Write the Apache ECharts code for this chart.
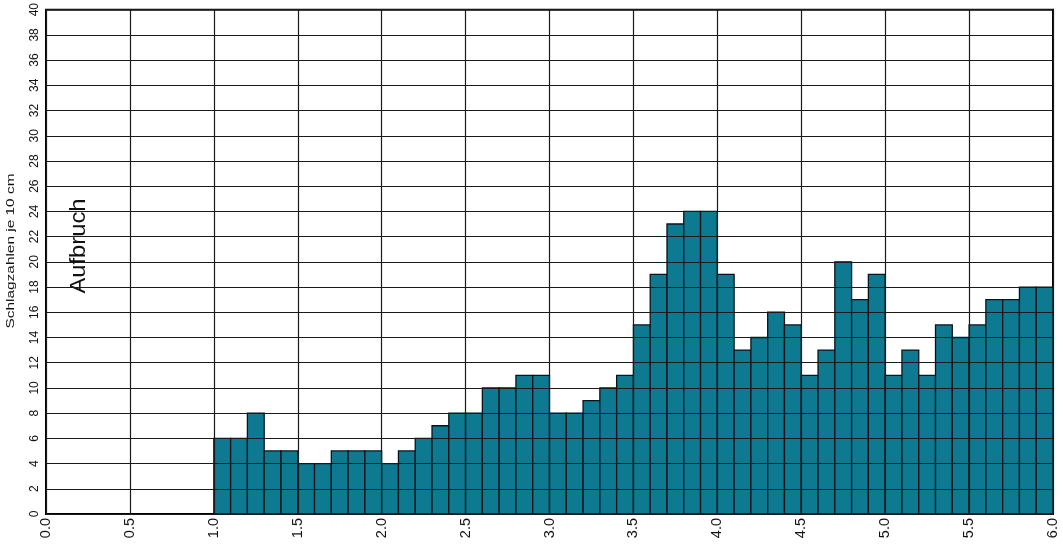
<!DOCTYPE html>
<html>
<head>
<meta charset="utf-8">
<script src="https://cdn.jsdelivr.net/npm/echarts@6/dist/echarts.min.js"></script>
<style>
  html, body { margin: 0; padding: 0; background: #fff; }
  #chart { width: 1063px; height: 553px; }
</style>
</head>
<body>
<div id="chart"></div>
<script>
// Depth bins (m): each bar covers [start, start + binWidth)
const binStarts = [
  1.0, 1.1, 1.2, 1.3, 1.4, 1.5, 1.6, 1.7, 1.8, 1.9,
  2.0, 2.1, 2.2, 2.3, 2.4, 2.5, 2.6, 2.7, 2.8, 2.9,
  3.0, 3.1, 3.2, 3.3, 3.4, 3.5, 3.6, 3.7, 3.8, 3.9,
  4.0, 4.1, 4.2, 4.3, 4.4, 4.5, 4.6, 4.7, 4.8, 4.9,
  5.0, 5.1, 5.2, 5.3, 5.4, 5.5, 5.6, 5.7, 5.8, 5.9
];
const binWidth = 0.1;
// Blow counts per 10 cm
const blows = [
  6, 6, 8, 5, 5, 4, 4, 5, 5, 5,
  4, 5, 6, 7, 8, 8, 10, 10, 11, 11,
  8, 8, 9, 10, 11, 15, 19, 23, 24, 24,
  19, 13, 14, 16, 15, 11, 13, 20, 17, 19,
  11, 13, 11, 15, 14, 15, 17, 17, 18, 18
];
const yTitle = 'Schlagzahlen je 10 cm';
const noteText = 'Aufbruch';

const FONT = 'Liberation Sans, Arial, sans-serif';
const chart = echarts.init(document.getElementById('chart'), null, { renderer: 'canvas' });

const data = binStarts.map((s, i) => [s, s + binWidth, blows[i]]);

chart.setOption({
  animation: false,
  backgroundColor: '#fff',
  textStyle: { fontFamily: FONT },
  grid: {
    left: 46, right: 10, top: 6, bottom: 39,
    show: true, borderColor: '#000', borderWidth: 2, backgroundColor: 'transparent'
  },
  xAxis: {
    type: 'value', min: 0, max: 6, interval: 0.5, z: 5,
    axisLine: { show: false },
    axisTick: { show: false },
    splitLine: { show: true, lineStyle: { color: '#1a1a1a', width: 1.2 } },
    axisLabel: {
      rotate: 90, color: '#111', fontSize: 14.5, margin: 4,
      formatter: v => v.toFixed(1)
    }
  },
  yAxis: {
    type: 'value', min: 0, max: 40, interval: 2, z: 5,
    axisLine: { show: false },
    axisTick: { show: false },
    splitLine: { show: true, lineStyle: { color: '#1a1a1a', width: 1.2 } },
    axisLabel: { rotate: 90, color: '#111', fontSize: 12, margin: 5 }
  },
  series: [{
    type: 'custom',
    z: 2,
    data: data,
    encode: { x: [0, 1], y: 2 },
    renderItem: (params, api) => {
      const p0 = api.coord([api.value(0), api.value(2)]);
      const p1 = api.coord([api.value(1), 0]);
      return {
        type: 'rect',
        shape: { x: p0[0], y: p0[1], width: p1[0] - p0[0], height: p1[1] - p0[1] },
        style: { fill: '#0e7a91', stroke: '#06141c', lineWidth: 1.3 }
      };
    }
  }],
  graphic: [{
    // axis title, drawn slightly elongated along its reading direction
    type: 'text',
    x: 11, y: 251,
    rotation: Math.PI / 2,
    scaleX: 1.4,
    style: { text: yTitle, fontSize: 11, fill: '#111', fontFamily: FONT, align: 'center', verticalAlign: 'middle' }
  }, {
    type: 'text',
    x: 79, y: 246,
    rotation: Math.PI / 2,
    scaleX: 1.08,
    style: { text: noteText, fontSize: 22, fill: '#111', fontFamily: FONT, align: 'center', verticalAlign: 'middle' }
  }]
});
</script>
</body>
</html>
